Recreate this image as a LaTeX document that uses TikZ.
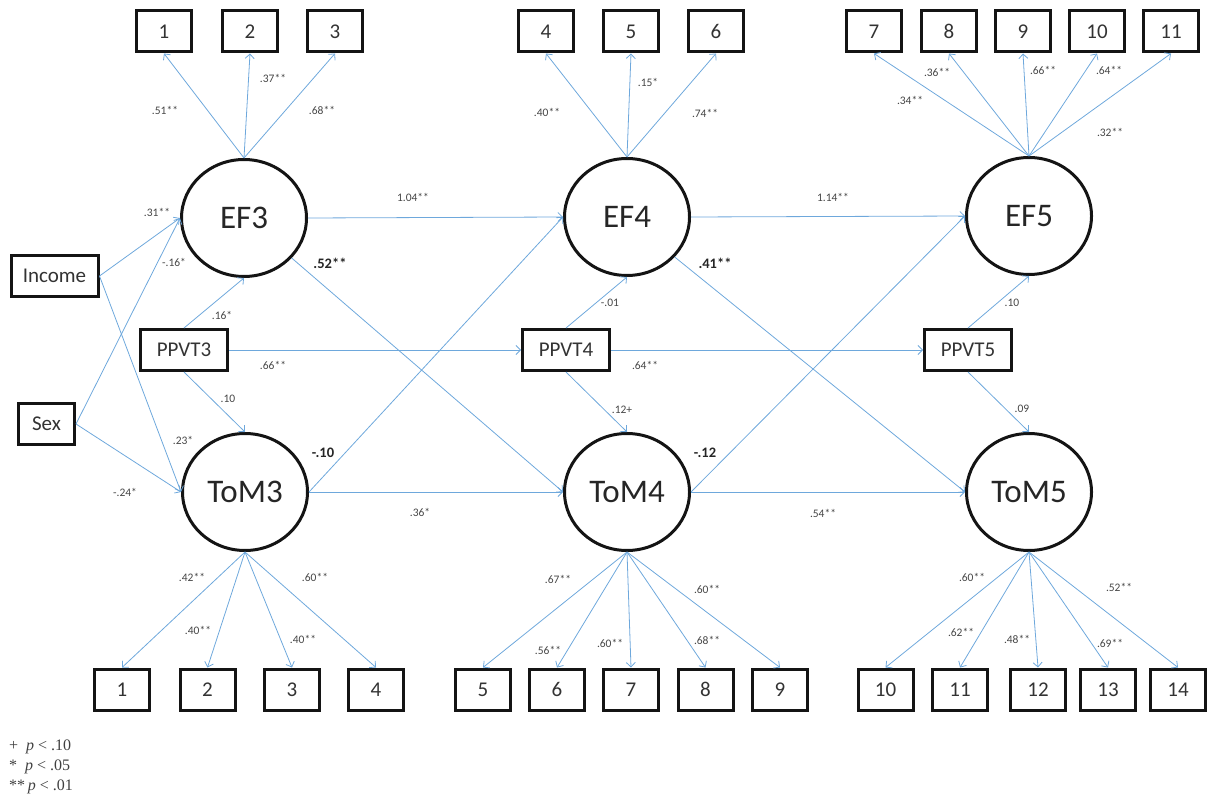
\documentclass[tikz,border=0pt]{standalone}
\usepackage{fontspec}
\setmainfont{Carlito}
\newfontfamily\legendfont{Liberation Serif}
\usetikzlibrary{arrows.meta,shapes.geometric}
\definecolor{arr}{RGB}{110,168,220}
\definecolor{ink}{RGB}{20,20,20}
\definecolor{lab}{RGB}{70,70,70}
\begin{document}
\begin{tikzpicture}[x=1pt,y=-1pt,
  obs/.style={draw=ink, line width=3pt, rectangle, minimum width=55pt, minimum height=41pt, inner sep=0pt, font=\fontsize{21}{21}\selectfont, text=black!80},
  wide/.style={obs, minimum width=87pt},
  lat/.style={draw=ink, line width=3pt, ellipse, minimum width=125pt, minimum height=117pt, inner sep=0pt, font=\fontsize{33}{33}\selectfont, text=black!85},
  con/.style={draw=arr, line width=0.8pt, -{Straight Barb[length=4.5pt,width=9pt]}},
  lbl/.style={font=\fontsize{11.5}{11.5}\selectfont, text=lab, inner sep=0pt},
  blbl/.style={font=\bfseries\fontsize{14.5}{14.5}\selectfont, text=black!85, inner sep=0pt},
  leg/.style={font=\legendfont\fontsize{16}{16}\selectfont, text=black!75, inner sep=0pt, anchor=west},
]
\useasboundingbox (0,0) rectangle (1207,799);

% top indicators
\foreach \n/\x in {1/164,2/250,3/335,4/546,5/631,6/716,7/874,8/949,9/1023,10/1097,11/1171}
  \node[obs] (t\n) at (\x,31.5) {\n};
% bottom indicators
\foreach \n/\x in {1/122,2/207.5,3/292,4/376,5/483,6/557,7/631,8/705.5,9/780,10/885.5,11/960,12/1038,13/1108,14/1178}
  \node[obs] (b\n) at (\x,689.5) {\n};

% latent variables
\node[lat] (EF3) at (244,218) {EF3};
\node[lat] (EF4) at (627,217) {EF4};
\node[lat] (EF5) at (1029,216) {EF5};
\node[lat] (ToM3) at (245,492) {ToM3};
\node[lat] (ToM4) at (627,492) {ToM4};
\node[lat] (ToM5) at (1029,492) {ToM5};

% covariates
\node[wide] (Income) at (54.5,276) {Income};
\node[obs, minimum width=56pt] (Sex) at (46.5,424) {Sex};
\node[wide] (PPVT3) at (184,350) {PPVT3};
\node[wide] (PPVT4) at (566,350) {PPVT4};
\node[wide] (PPVT5) at (968,350) {PPVT5};

% measurement arrows
\foreach \t in {1,2,3} \draw[con] (EF3.north) -- (t\t.south);
\foreach \t in {4,5,6} \draw[con] (EF4.north) -- (t\t.south);
\foreach \t in {7,8,9,10,11} \draw[con] (EF5.north) -- (t\t.south);
\foreach \t in {1,2,3,4} \draw[con] (ToM3.south) -- (b\t.north);
\foreach \t in {5,6,7,8,9} \draw[con] (ToM4.south) -- (b\t.north);
\foreach \t in {10,11,12,13,14} \draw[con] (ToM5.south) -- (b\t.north);

% structural paths
\draw[con] (EF3.east) -- (EF4.west);
\draw[con] (EF4.east) -- (EF5.west);
\draw[con] (ToM3.east) -- (ToM4.west);
\draw[con] (ToM4.east) -- (ToM5.west);
\draw[con] (EF3.-40) -- (ToM4.west);
\draw[con] (ToM3.east) -- (EF4.west);
\draw[con] (EF4.-40) -- (ToM5.west);
\draw[con] (ToM4.east) -- (EF5.west);
\draw[con] (PPVT3.east) -- (PPVT4.west);
\draw[con] (PPVT4.east) -- (PPVT5.west);
\draw[con] (PPVT3.north) -- (EF3.south);
\draw[con] (PPVT3.south) -- (ToM3.north);
\draw[con] (PPVT4.north) -- (EF4.south);
\draw[con] (PPVT4.south) -- (ToM4.north);
\draw[con] (PPVT5.north) -- (EF5.south);
\draw[con] (PPVT5.south) -- (ToM5.north);
\draw[con] (Income.east) -- (EF3.west);
\draw[con] (Income.east) -- (ToM3.west);
\draw[con] (Sex.east) -- (EF3.west);
\draw[con] (Sex.east) -- (ToM3.west);

% loadings labels (top)
\node[lbl] (a1) at (165,110) {.51**};
\node[lbl] (a2) at (273,78) {.37**};
\node[lbl] (a3) at (322,110) {.68**};
\node[lbl] (a4) at (547,112) {.40**};
\node[lbl] (a5) at (648,82) {.15*};
\node[lbl] (a6) at (705,113) {.74**};
\node[lbl] (a7) at (910,100) {.34**};
\node[lbl] (a8) at (937,72) {.36**};
\node[lbl] (a9) at (1043,70) {.66**};
\node[lbl] (a10) at (1109,70) {.64**};
\node[lbl] (a11) at (1110,132) {.32**};
% structural labels
\node[lbl] (s1) at (413,197) {1.04**};
\node[lbl] (s2) at (833,197) {1.14**};
\node[lbl] (s3) at (420,512) {.36*};
\node[lbl] (s4) at (823,513) {.54**};
\node[lbl] (s5) at (157,212) {.31**};
\node[lbl] (s6) at (174,262) {-.16*};
\node[lbl] (s7) at (222,315) {.16*};
\node[lbl] (s8) at (273,365) {.66**};
\node[lbl] (s9) at (228,399) {.10};
\node[lbl] (s10) at (183,440) {.23*};
\node[lbl] (s11) at (125,492) {-.24*};
\node[lbl] (s12) at (610,303) {-.01};
\node[lbl] (s13) at (645,365) {.64**};
\node[lbl] (s14) at (622,410) {.12+};
\node[lbl] (s15) at (1012,303) {.10};
\node[lbl] (s16) at (1022,409) {.09};
\node[blbl] (s17) at (330,263) {.52**};
\node[blbl] (s18) at (323,453) {-.10};
\node[blbl] (s19) at (715,263) {.41**};
\node[blbl] (s20) at (705,453) {-.12};
% loadings labels (bottom)
\node[lbl] (c1) at (192,577) {.42**};
\node[lbl] (c2) at (198,630) {.40**};
\node[lbl] (c3) at (303,639) {.40**};
\node[lbl] (c4) at (315,577) {.60**};
\node[lbl] (c5) at (558,579) {.67**};
\node[lbl] (c6) at (548,650) {.56**};
\node[lbl] (c7) at (610,643) {.60**};
\node[lbl] (c8) at (707,640) {.68**};
\node[lbl] (c9) at (707,589) {.60**};
\node[lbl] (c10) at (972,577) {.60**};
\node[lbl] (c11) at (961,632) {.62**};
\node[lbl] (c12) at (1017,639) {.48**};
\node[lbl] (c13) at (1110,643) {.69**};
\node[lbl] (c14) at (1119,587) {.52**};

% legend
\node[leg] (g1) at (9,747) {+\ \ \textit{p} < .10};
\node[leg] (g2) at (9,767) {*\ \ \textit{p} < .05};
\node[leg] (g3) at (9,787) {**\,\textit{p} < .01};
\end{tikzpicture}
\end{document}
